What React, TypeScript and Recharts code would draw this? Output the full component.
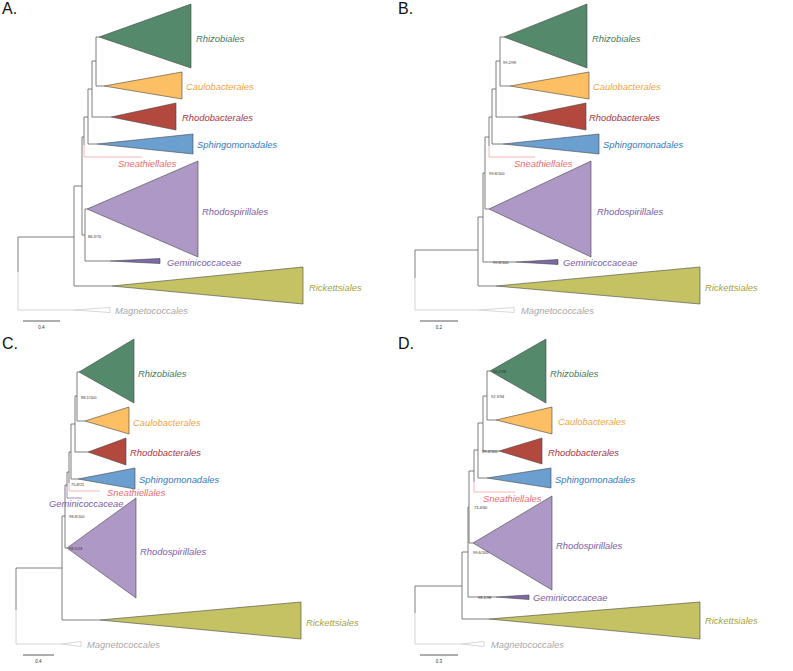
import { ComposedChart, XAxis, YAxis, Area, Scatter, ReferenceLine } from "recharts";

// branch: [x1, y1, x2, y2, kind]  (d = default, p = Sneathiellales, l = outgroup, v = Geminicoccaceae)
type Seg = [number, number, number, number, string?];
// clade: [name, apexX, apexY, tipX, tipTop, tipBottom]
type Clade = [string, number, number, number, number, number];
type Tag = [string, number, number];

const branchesA: Seg[] = [
  [96, 37, 96, 86], [96, 37, 99, 37], [96, 86, 104, 86],
  [92, 61, 92, 117], [92, 61, 96, 61], [92, 117, 111, 117],
  [88, 89, 88, 144], [88, 89, 92, 89], [88, 144, 97, 144],
  [84, 117, 84, 145], [84, 117, 88, 117], [84, 145, 84, 157, "p"], [84, 157, 142, 157, "p"],
  [82, 137, 82, 235], [82, 137, 84, 137],
  [85, 209, 85, 261], [85, 209, 87, 209], [85, 261, 110, 261], [82, 235, 85, 235],
  [74, 186, 74, 286], [74, 186, 82, 186], [74, 286, 112, 286],
  [18, 237, 18, 272], [18, 272, 18, 310, "l"], [18, 237, 74, 237], [18, 310, 74, 310, "l"],
];
const cladesA: Clade[] = [
  ["Rhizobiales", 99, 37, 191, 4, 68],
  ["Caulobacterales", 104, 86, 182, 72, 99],
  ["Rhodobacterales", 111, 117, 176, 103, 130],
  ["Sphingomonadales", 97, 144, 193, 134, 154],
  ["Rhodospirillales", 87, 209, 198, 161, 257],
  ["Geminicoccaceae", 110, 261, 160, 258.5, 263.5],
  ["Rickettsiales", 112, 286, 303, 267, 304],
  ["Magnetococcales", 74, 310, 110, 307.5, 312.5],
];
const labelsA: Tag[] = [
  ["Rhizobiales", 196, 38], ["Caulobacterales", 186, 86], ["Rhodobacterales", 182, 117],
  ["Sphingomonadales", 197, 144], ["Sneathiellales", 118, 163], ["Rhodospirillales", 202, 211],
  ["Geminicoccaceae", 167, 262], ["Rickettsiales", 309, 287], ["Magnetococcales", 115, 310],
];
const supportsA: Tag[] = [["86.3/70", 88, 236]];

const branchesB: Seg[] = [
  [104, 37, 104, 86], [104, 37, 108, 37], [104, 86, 114, 86],
  [100, 61, 100, 117], [100, 61, 104, 61], [100, 117, 122, 117],
  [96, 89, 96, 144], [96, 89, 100, 89], [96, 144, 107, 144],
  [93, 117, 93, 146], [93, 117, 96, 117], [93, 146, 93, 157, "p"], [93, 157, 139, 157, "p"],
  [89, 137, 89, 209], [89, 137, 93, 137], [89, 209, 93, 209],
  [87, 173, 87, 262], [87, 173, 89, 173], [87, 262, 120, 262],
  [82, 217, 82, 286], [82, 217, 87, 217], [82, 286, 100, 286],
  [19, 250, 19, 278], [19, 278, 19, 310, "l"], [19, 250, 82, 250], [19, 310, 83, 310, "l"],
];
const cladesB: Clade[] = [
  ["Rhizobiales", 108, 37, 191, 4, 68],
  ["Caulobacterales", 114, 86, 193, 72, 99],
  ["Rhodobacterales", 122, 117, 190, 103, 130],
  ["Sphingomonadales", 107, 144, 203, 134, 154],
  ["Rhodospirillales", 93, 209, 195, 161, 257],
  ["Geminicoccaceae", 120, 262, 162, 259.5, 264.5],
  ["Rickettsiales", 100, 286, 304, 267, 304],
  ["Magnetococcales", 83, 310, 118, 307.5, 312.5],
];
const labelsB: Tag[] = [
  ["Rhizobiales", 196, 38], ["Caulobacterales", 197, 86], ["Rhodobacterales", 193, 117],
  ["Sphingomonadales", 207, 144], ["Sneathiellales", 118, 163], ["Rhodospirillales", 201, 211],
  ["Geminicoccaceae", 167, 262], ["Rickettsiales", 309, 287], ["Magnetococcales", 125, 310],
];
const supportsB: Tag[] = [["99.2/99", 107, 62], ["99.8/100", 93, 173], ["99.8/100", 97, 262]];

const branchesC: Seg[] = [
  [77, 37, 77, 86], [77, 37, 79, 37], [77, 86, 85, 86],
  [75, 61, 75, 117], [75, 61, 77, 61], [75, 117, 88, 117],
  [71, 89, 71, 144], [71, 89, 75, 89], [71, 144, 78, 144],
  [69, 117, 69, 148], [69, 117, 71, 117], [69, 148, 69, 156, "p"], [69, 156, 100, 156, "p"],
  [67, 137, 67, 152], [67, 137, 69, 137], [67, 152, 67, 163, "v"], [67, 163, 82, 163, "v"],
  [65, 150, 65, 213], [65, 150, 67, 150], [65, 213, 67, 213],
  [62, 181, 62, 285], [62, 181, 65, 181], [62, 285, 100, 285],
  [16, 233, 16, 275], [16, 275, 16, 309, "l"], [16, 233, 62, 233], [16, 309, 62, 309, "l"],
];
const cladesC: Clade[] = [
  ["Rhizobiales", 79, 37, 134, 4, 68],
  ["Caulobacterales", 85, 86, 129, 72, 99],
  ["Rhodobacterales", 88, 117, 126, 103, 130],
  ["Sphingomonadales", 78, 144, 135, 133, 154],
  ["Rhodospirillales", 67, 213, 136, 163, 263],
  ["Rickettsiales", 100, 285, 301, 267, 304],
  ["Magnetococcales", 62, 309, 81, 306.5, 311.5],
];
const labelsC: Tag[] = [
  ["Rhizobiales", 138, 38], ["Caulobacterales", 133, 87], ["Rhodobacterales", 130, 117],
  ["Sphingomonadales", 139, 144], ["Sneathiellales", 107, 157.5], ["Geminicoccaceae", 49, 168.5],
  ["Rhodospirillales", 140, 216], ["Rickettsiales", 306, 287], ["Magnetococcales", 87, 309],
];
const supportsC: Tag[] = [["88.1/100", 81, 62], ["75.8/21", 71, 149], ["98.8/100", 69, 181], ["98.5/24", 69, 213]];

const branchesD: Seg[] = [
  [91, 36, 91, 85], [91, 36, 94, 36], [91, 85, 100, 85],
  [87, 61, 87, 116], [87, 61, 91, 61], [87, 116, 103, 116],
  [82, 88, 82, 143], [82, 88, 87, 88], [82, 143, 91, 143],
  [78, 115, 78, 147], [78, 115, 82, 115], [78, 147, 78, 157, "p"], [78, 157, 119, 157, "p"],
  [73, 136, 73, 208], [73, 136, 78, 136], [73, 208, 77, 208],
  [72, 172, 72, 262], [72, 172, 73, 172], [72, 262, 100, 262],
  [66, 217, 66, 284], [66, 217, 72, 217], [66, 284, 93, 284],
  [19, 251, 19, 278], [19, 278, 19, 309, "l"], [19, 251, 66, 251], [19, 309, 66, 309, "l"],
];
const cladesD: Clade[] = [
  ["Rhizobiales", 94, 36, 150, 4, 68],
  ["Caulobacterales", 100, 85, 156, 72, 99],
  ["Rhodobacterales", 103, 116, 146, 103, 129],
  ["Sphingomonadales", 91, 143, 155, 133, 153],
  ["Rhodospirillales", 77, 208, 156, 161, 255],
  ["Geminicoccaceae", 100, 262, 133, 260, 264.5],
  ["Rickettsiales", 93, 284, 304, 267, 304],
  ["Magnetococcales", 66, 309, 88, 306.5, 311.5],
];
const labelsD: Tag[] = [
  ["Rhizobiales", 154, 38], ["Caulobacterales", 162, 86], ["Rhodobacterales", 152, 117],
  ["Sphingomonadales", 159, 144], ["Sneathiellales", 87, 163], ["Rhodospirillales", 160, 210],
  ["Geminicoccaceae", 137, 262], ["Rickettsiales", 309, 285], ["Magnetococcales", 95, 309],
];
const supportsD: Tag[] = [
  ["96.2/98", 97, 36], ["92.3/94", 95, 61], ["89.4/100", 86, 116],
  ["73.4/60", 78, 172], ["99.6/100", 77, 217], ["98.1/98", 82, 262],
];

// scale bars: [x1, x2, y, label]
const scaleA: [number, number, number, string] = [23, 60, 321, "0.4"];
const scaleB: [number, number, number, string] = [24, 62, 321, "0.2"];
const scaleC: [number, number, number, string] = [23, 54, 320, "0.4"];
const scaleD: [number, number, number, string] = [24, 62, 320, "0.3"];

const cladeFill: Record<string, string> = {
  Rhizobiales: "#54896c",
  Caulobacterales: "#fdbf63",
  Rhodobacterales: "#b3483f",
  Sphingomonadales: "#6a9fcf",
  Rhodospirillales: "#ad98c6",
  Geminicoccaceae: "#7d69a6",
  Rickettsiales: "#c4c263",
  Magnetococcales: "#ffffff",
};
const labelColor: Record<string, string> = {
  Rhizobiales: "#3f7a5d",
  Caulobacterales: "#f5a33f",
  Rhodobacterales: "#a9333b",
  Sphingomonadales: "#3479bd",
  Sneathiellales: "#ee6b6f",
  Rhodospirillales: "#7a5ca7",
  Geminicoccaceae: "#7a5ca7",
  Rickettsiales: "#a3a33e",
  Magnetococcales: "#a8a8a8",
};
const branchColor: Record<string, string> = { d: "#5e5e5e", p: "#f4a3a3", l: "#c9c9c9", v: "#8a74b3" };
const font = "'Liberation Sans', Arial, sans-serif";

function Panel({
  letter, left, top, width, height, branches, clades, labels, supports, scale,
}: {
  letter: string; left: number; top: number; width: number; height: number;
  branches: Seg[]; clades: Clade[]; labels: Tag[]; supports: Tag[];
  scale: [number, number, number, string];
}) {
  return (
    <div style={{ position: "absolute", left, top, width, height }}>
      <ComposedChart width={width} height={height} margin={{ top: 0, right: 0, bottom: 0, left: 0 }}>
        <XAxis type="number" dataKey="x" domain={[0, width]} hide allowDataOverflow />
        <YAxis type="number" dataKey="y" domain={[0, height]} reversed hide allowDataOverflow />
        {branches.map((b, i) => (
          <ReferenceLine
            key={"b" + i}
            segment={[{ x: b[0], y: b[1] }, { x: b[2], y: b[3] }]}
            stroke={branchColor[b[4] ?? "d"]}
            strokeWidth={0.8}
            ifOverflow="visible"
          />
        ))}
        {clades.map(([name, x0, y0, x1, t, b]) => (
          <Area
            key={name}
            data={[{ x: x0, y: [y0, y0] }, { x: x1, y: [t, b] }]}
            dataKey="y"
            type="linear"
            fill={cladeFill[name]}
            fillOpacity={1}
            stroke={name === "Magnetococcales" ? "#bdbdbd" : "#444"}
            strokeWidth={0.6}
            dot={false}
            activeDot={false}
            isAnimationActive={false}
          />
        ))}
        {clades.map(([name, , , x1, t, b]) => (
          <ReferenceLine
            key={"e" + name}
            segment={[{ x: x1, y: t }, { x: x1, y: b }]}
            stroke={name === "Magnetococcales" ? "#bdbdbd" : "#444"}
            strokeWidth={0.6}
            ifOverflow="visible"
          />
        ))}
        <ReferenceLine
          segment={[{ x: scale[0], y: scale[2] }, { x: scale[1], y: scale[2] }]}
          stroke="#333"
          strokeWidth={0.8}
          ifOverflow="visible"
        />
        <Scatter
          data={labels.map(([name, x, y]) => ({ name, x, y }))}
          isAnimationActive={false}
          shape={(p: any) => (
            <text
              x={p.cx}
              y={p.cy}
              dominantBaseline="central"
              fontFamily={font}
              fontStyle="italic"
              fontSize={9.4}
              fill={labelColor[p.payload.name]}
            >
              {p.payload.name}
            </text>
          )}
        />
        <Scatter
          data={supports.map(([name, x, y]) => ({ name, x, y }))}
          isAnimationActive={false}
          shape={(p: any) => (
            <text x={p.cx} y={p.cy} dominantBaseline="central" fontFamily={font} fontSize={4} fill="#333">
              {p.payload.name}
            </text>
          )}
        />
        <Scatter
          data={[{ name: scale[3], x: (scale[0] + scale[1]) / 2, y: scale[2] + 6 }]}
          isAnimationActive={false}
          shape={(p: any) => (
            <text x={p.cx} y={p.cy} textAnchor="middle" dominantBaseline="central" fontFamily={font} fontSize={4.5} fill="#333">
              {p.payload.name}
            </text>
          )}
        />
      </ComposedChart>
      <div style={{ position: "absolute", left: 2, top: 0, fontFamily: font, fontSize: 16, color: "#111" }}>{letter}</div>
    </div>
  );
}

export default function App() {
  return (
    <div style={{ position: "absolute", left: 0, top: 0, width: 793, height: 671, background: "#fff" }}>
      <Panel letter="A." left={0} top={0} width={396} height={335} branches={branchesA} clades={cladesA} labels={labelsA} supports={supportsA} scale={scaleA} />
      <Panel letter="B." left={396} top={0} width={397} height={335} branches={branchesB} clades={cladesB} labels={labelsB} supports={supportsB} scale={scaleB} />
      <Panel letter="C." left={0} top={335} width={396} height={336} branches={branchesC} clades={cladesC} labels={labelsC} supports={supportsC} scale={scaleC} />
      <Panel letter="D." left={396} top={335} width={397} height={336} branches={branchesD} clades={cladesD} labels={labelsD} supports={supportsD} scale={scaleD} />
    </div>
  );
}
